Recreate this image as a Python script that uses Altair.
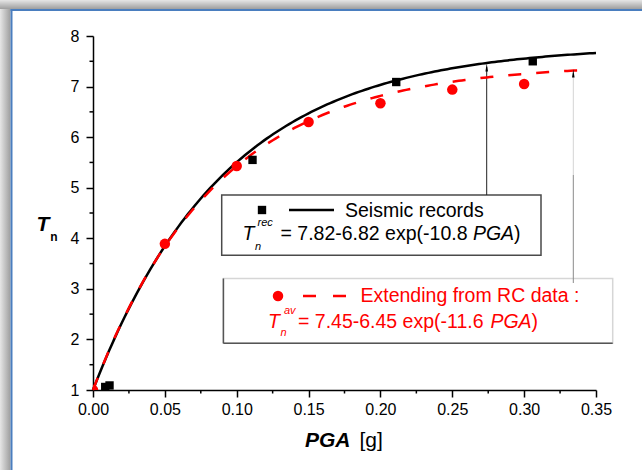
import altair as alt
import numpy as np
import pandas as pd

# ---- data -------------------------------------------------------------
# Seismic-record points (PGA [g], Tn)
rec_pga = [0.0085, 0.0115, 0.111, 0.211, 0.306]
rec_tn = [1.06, 1.09, 5.55, 7.09, 7.50]

# Points extended from RC data
rc_pga = [0.0, 0.05, 0.10, 0.15, 0.20, 0.25, 0.30]
rc_tn = [1.0, 3.89, 5.43, 6.30, 6.67, 6.94, 7.05]

# Fitted curves: Tn = a - b * exp(-c * PGA)
rec_fit = [7.82, 6.82, 10.8]
av_fit = [7.45, 6.45, 11.6]
rec_span = [0.0, 0.35]
av_span = [0.0, 0.343]

# Axis ticks
x_major = [0.0, 0.05, 0.10, 0.15, 0.20, 0.25, 0.30, 0.35]
x_minor = [0.025, 0.075, 0.125, 0.175, 0.225, 0.275, 0.325]
y_major = [1, 2, 3, 4, 5, 6, 7, 8]
y_minor = [1.5, 2.5, 3.5, 4.5, 5.5, 6.5, 7.5]

# ---- layout -----------------------------------------------------------
FONT = "Liberation Sans"
L, T, W, H = 93, 36, 503, 354          # plot-area offset and size
TOTAL_W, TOTAL_H = 642, 470


def px(x):
    return x - L


def py(y):
    return y - T


def fit_curve(coef, span, n=160):
    a, b, c = coef
    g = np.linspace(span[0], span[1], n)
    return pd.DataFrame({"pga": g, "tn": a - b * np.exp(-c * g)})


rec_curve = fit_curve(rec_fit, rec_span)
av_curve = fit_curve(av_fit, av_span)
rec_pts = pd.DataFrame({"pga": rec_pga, "tn": rec_tn})
rc_pts = pd.DataFrame({"pga": rc_pga, "tn": rc_tn})
one = pd.DataFrame({"k": [0]})

xs = alt.Scale(domain=[0, 0.35], nice=False, zero=False)
ys = alt.Scale(domain=[1, 8], nice=False, zero=False)

axis_common = dict(
    grid=False, domainColor="black", domainWidth=1.5,
    tickColor="black", tickWidth=1.5, tickSize=7,
    labelFont=FONT, labelFontSize=16, labelColor="black", title=None,
    labelFlush=False, labelOverlap=False,
)

X = alt.X("pga:Q", scale=xs,
          axis=alt.Axis(values=x_major, format=".2f", labelPadding=4,
                        **axis_common))
Y = alt.Y("tn:Q", scale=ys,
          axis=alt.Axis(values=y_major, format="d", labelPadding=7,
                        **axis_common))

# ---- frame around the figure -----------------------------------------
def grad(horizontal):
    stops = [alt.GradientStop(color="#e6e6e6", offset=0),
             alt.GradientStop(color="#9e9e9e", offset=1)]
    if horizontal:
        return alt.Gradient(gradient="linear", stops=stops, x1=0, x2=1, y1=0, y2=0)
    return alt.Gradient(gradient="linear", stops=stops, x1=0, x2=0, y1=0, y2=1)


shadow_left = alt.Chart(one).mark_rect(color=grad(True)).encode(
    x=alt.value(px(0)), x2=alt.value(px(10.5)),
    y=alt.value(py(0)), y2=alt.value(py(TOTAL_H)))
shadow_top = alt.Chart(one).mark_rect(color=grad(False)).encode(
    x=alt.value(px(0)), x2=alt.value(px(TOTAL_W)),
    y=alt.value(py(0)), y2=alt.value(py(9)))
frame_v = alt.Chart(one).mark_rule(color="#4a7ebf", strokeWidth=2).encode(
    x=alt.value(px(11.5)), y=alt.value(py(9)), y2=alt.value(py(TOTAL_H)))
frame_h = alt.Chart(one).mark_rule(color="#4a7ebf", strokeWidth=2).encode(
    x=alt.value(px(10.5)), x2=alt.value(px(TOTAL_W)), y=alt.value(py(10)))

# ---- minor ticks ------------------------------------------------------
xminor = alt.Chart(pd.DataFrame({"pga": x_minor})).mark_rule(
    color="black", strokeWidth=1.5).encode(
    x=alt.X("pga:Q", scale=xs), y=alt.value(H), y2=alt.value(H + 3.5))
yminor = alt.Chart(pd.DataFrame({"tn": y_minor})).mark_rule(
    color="black", strokeWidth=1.5).encode(
    y=alt.Y("tn:Q", scale=ys), x=alt.value(-3.5), x2=alt.value(0))

# ---- curves and points -----------------------------------------------
rec_line = alt.Chart(rec_curve).mark_line(
    color="black", strokeWidth=2.5).encode(x=X, y=Y)
av_line = alt.Chart(av_curve).mark_line(
    color="#ff0000", strokeWidth=2.5, strokeDash=[13, 15]).encode(
    x=alt.X("pga:Q", scale=xs), y=alt.Y("tn:Q", scale=ys))
rec_mark = alt.Chart(rec_pts).mark_point(
    shape="square", filled=True, size=70, color="black", opacity=1,
    clip=True).encode(
    x=alt.X("pga:Q", scale=xs), y=alt.Y("tn:Q", scale=ys))
rc_mark = alt.Chart(rc_pts).mark_point(
    shape="circle", filled=True, size=110, color="#ff0000", opacity=1,
    clip=True).encode(
    x=alt.X("pga:Q", scale=xs), y=alt.Y("tn:Q", scale=ys))

# ---- annotation arrows -----------------------------------------------
ARROW = "M0,-1L0.32,1L-0.32,1Z"
arrow1 = alt.Chart(one).mark_rule(color="#222222", strokeWidth=1).encode(
    x=alt.value(px(486.7)), y=alt.value(py(67)), y2=alt.value(py(195)))
head1 = alt.Chart(one).mark_point(
    shape=ARROW, filled=True, size=64, color="black", opacity=1).encode(
    x=alt.value(px(486.7)), y=alt.value(py(67.5)))
arrow2a = alt.Chart(one).mark_rule(color="#d4d4d4", strokeWidth=1).encode(
    x=alt.value(px(573.3)), y=alt.value(py(73)), y2=alt.value(py(175)))
arrow2b = alt.Chart(one).mark_rule(color="#8a8a8a", strokeWidth=1).encode(
    x=alt.value(px(573.3)), y=alt.value(py(175)), y2=alt.value(py(283)))
head2 = alt.Chart(one).mark_point(
    shape=ARROW, filled=True, size=64, color="black", opacity=1).encode(
    x=alt.value(px(573.3)), y=alt.value(py(73.5)))

# ---- legend boxes -----------------------------------------------------
box1 = alt.Chart(one).mark_rect(
    fill="white", stroke="#4a4a4a", strokeWidth=1.5).encode(
    x=alt.value(px(221.7)), x2=alt.value(px(541)),
    y=alt.value(py(195)), y2=alt.value(py(255.3)))
box2 = alt.Chart(one).mark_rect(
    fill="white", stroke="#d6d6d6", strokeWidth=1.5).encode(
    x=alt.value(px(223.4)), x2=alt.value(px(612.7)),
    y=alt.value(py(278.5)), y2=alt.value(py(343.3)))
box2_left = alt.Chart(one).mark_rule(color="#555555", strokeWidth=1.5).encode(
    x=alt.value(px(223.4)), y=alt.value(py(278.5)), y2=alt.value(py(343.3)))
box2_bottom = alt.Chart(one).mark_rule(color="#555555", strokeWidth=1.5).encode(
    x=alt.value(px(223.4)), x2=alt.value(px(612.7)), y=alt.value(py(343.3)))

key1_sym = alt.Chart(one).mark_point(
    shape="square", filled=True, size=70, color="black", opacity=1).encode(
    x=alt.value(px(262)), y=alt.value(py(210)))
key1_line = alt.Chart(one).mark_rule(color="black", strokeWidth=2.5).encode(
    x=alt.value(px(289)), x2=alt.value(px(334)), y=alt.value(py(210)))
key2_sym = alt.Chart(one).mark_point(
    shape="circle", filled=True, size=110, color="#ff0000", opacity=1).encode(
    x=alt.value(px(278)), y=alt.value(py(296)))
key2_line = alt.Chart(one).mark_rule(
    color="#ff0000", strokeWidth=2.5, strokeDash=[13, 17]).encode(
    x=alt.value(px(303)), x2=alt.value(px(347.5)), y=alt.value(py(296)))


def label(text, x, y, size, color="black", style="normal", weight="normal",
          align="left"):
    return alt.Chart(one).mark_text(
        text=text, font=FONT, fontSize=size, fontStyle=style,
        fontWeight=weight, color=color, align=align, baseline="middle").encode(
        x=alt.value(px(x)), y=alt.value(py(y)))


RED = "#ff0000"
texts = [
    label("Seismic records", 345, 210.5, 19.5),
    label("T", 242.6, 234, 19.5, style="italic"),
    label("rec", 257.5, 223, 11, style="italic"),
    label("n", 255, 247, 11, style="italic"),
    label("= 7.82-6.82 exp(-10.8 ", 280.5, 234, 19.5),
    label("PGA", 280.5 + 192.4, 234, 19.5, style="italic"),
    label(")", 280.5 + 192.4 + 41.2, 234, 19.5),
    label("Extending from RC data :", 360.5, 296, 19.5, color=RED),
    label("T", 268, 321.5, 19.5, color=RED, style="italic"),
    label("av", 284, 311, 11, color=RED, style="italic"),
    label("n", 280.5, 333, 11, color=RED, style="italic"),
    label("= 7.45-6.45 exp(-11.6 ", 298, 321.5, 19.5, color=RED),
    label("PGA", 298 + 192.4, 321.5, 19.5, color=RED, style="italic"),
    label(")", 298 + 192.4 + 41.2, 321.5, 19.5, color=RED),
    # axis titles
    label("T", 43, 225, 21, style="italic", weight="bold", align="center"),
    label("n", 54, 237, 12, weight="bold", align="center"),
    label("PGA", 305, 441, 21, style="italic", weight="bold"),
    label("[g]", 359.5, 441, 21),
]

chart = alt.layer(
    shadow_left, shadow_top, frame_v, frame_h,
    box1, box2, box2_left, box2_bottom,
    arrow1, arrow2a, arrow2b,
    rec_line, av_line, rec_mark, rc_mark,
    head1, head2,
    xminor, yminor,
    key1_sym, key1_line, key2_sym, key2_line,
    *texts,
).properties(
    width=W, height=H,
    autosize=alt.AutoSizeParams(type="none"),
    padding={"left": L, "top": T, "right": TOTAL_W - L - W,
             "bottom": TOTAL_H - T - H},
    background="white",
).configure_view(stroke=None)

chart.save("out.html", embed_options={"renderer": "svg", "actions": False})
